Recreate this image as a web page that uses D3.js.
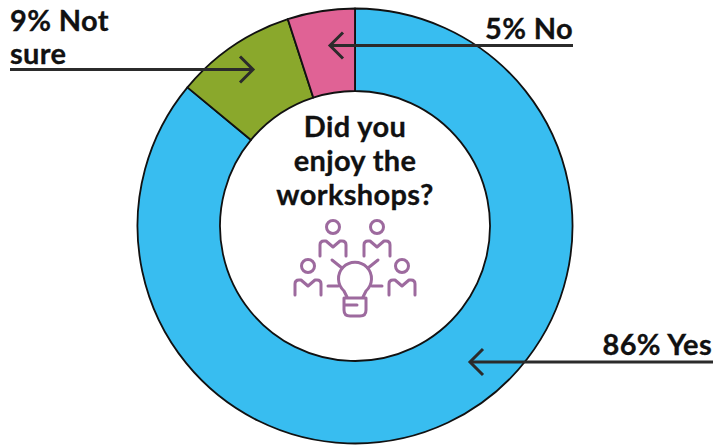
<!DOCTYPE html>
<html><head><meta charset="utf-8">
<script src="https://cdn.jsdelivr.net/npm/d3@7"></script>
<style>html,body{margin:0;background:#fff}svg{display:block}text{font-family:Lato,sans-serif;font-weight:700;fill:#111;letter-spacing:0.35px;stroke:#111;stroke-width:0.3px}</style>
</head><body><svg id="c" width="714" height="445"></svg>
<script>
const categories = ["Yes","Not sure","No"];
const values = [86,9,5];
const colors = ["#38bdf0","#8aa82c","#e06295"];
const titleLines = ["Did you","enjoy the","workshops?"];

const svg = d3.select("#c");
const cx = 355, cy = 226, R = 217.5, r = 135;
const pie = d3.pie().sort(null).value(d=>d.v);
const arc = d3.arc().outerRadius(R).innerRadius(r);
const data = categories.map((c,i)=>({c,v:values[i],col:colors[i]}));
svg.append("g").attr("transform",`translate(${cx},${cy})`)
  .selectAll("path").data(pie(data)).join("path")
  .attr("d",arc).attr("fill",d=>d.data.col)
  .attr("stroke","#111").attr("stroke-width",1.8).attr("stroke-linejoin","round");

// centre title
const fs = 29;
svg.append("g").selectAll("text").data(titleLines).join("text")
  .attr("x",355).attr("y",(d,i)=>[137,171,205][i])
  .attr("text-anchor","middle").attr("font-size",fs).text(d=>d);

// labels
const labels = [
  {t:"9% Not",x:10,y:31,a:"start"},
  {t:"sure",x:10,y:64,a:"start"},
  {t:"5% No",x:573,y:39,a:"end"},
  {t:"86% Yes",x:712,y:355,a:"end"}
];
svg.append("g").selectAll("text").data(labels).join("text")
  .attr("x",d=>d.x).attr("y",d=>d.y).attr("text-anchor",d=>d.a)
  .attr("font-size",fs).text(d=>d.t);

// arrows
const arrows = [
  {x1:10,x2:253,y:69.5},
  {x1:573,x2:330,y:45.5},
  {x1:713,x2:470,y:362}
];
const ag = svg.append("g").attr("fill","none").attr("stroke","#2b2b2b").attr("stroke-width",3);
arrows.forEach(a=>{
  const s = a.x2>a.x1?-1:1, h=13;
  ag.append("path").attr("d",`M${a.x1} ${a.y}H${a.x2}`);
  ag.append("path").attr("d",`M${a.x2+s*h} ${a.y-h}L${a.x2} ${a.y}L${a.x2+s*h} ${a.y+h}`);
});

// icon
const ic = svg.append("g").attr("fill","none").attr("stroke","#9d6a9e").attr("stroke-width",3).attr("stroke-linecap","round").attr("stroke-linejoin","round");
[[333,227],[377,227],[308,266],[402,266]].forEach(([x,y])=>{
  ic.append("circle").attr("cx",x).attr("cy",y).attr("r",6.5);
  ic.append("path").attr("d",`M${x-13} ${y+29}V${y+18}Q${x-13} ${y+14} ${x-9} ${y+14}H${x-7}L${x} ${y+20}L${x+7} ${y+14}H${x+9}Q${x+13} ${y+14} ${x+13} ${y+18}V${y+29}`);
});
ic.append("path").attr("d","M347 297L344 291A16.5 16.5 0 1 1 366 291L363 297");
ic.append("path").attr("d","M344 298H366V310Q366 316 360 316H350Q344 316 344 310ZM344 305H357");
ic.append("path").attr("d","M332 260L342 268M378 260L368 268M328 286H338M372 286H382");
</script></body></html>
